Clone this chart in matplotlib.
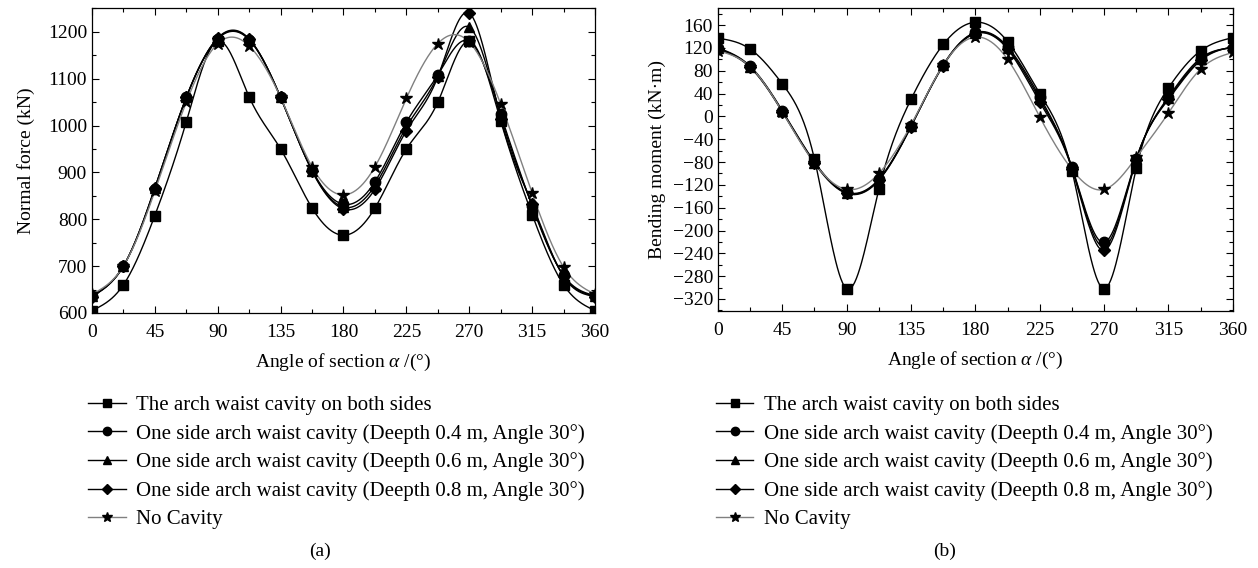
import matplotlib
matplotlib.use("Agg")
import matplotlib.pyplot as plt
import numpy as np
from matplotlib.ticker import MultipleLocator

plt.rcParams['font.family'] = ['Liberation Serif', 'DejaVu Serif']
plt.rcParams['mathtext.fontset'] = 'custom'
plt.rcParams['mathtext.rm'] = 'Liberation Serif'
plt.rcParams['mathtext.it'] = 'Liberation Serif:italic'

# angle of section, every 22.5 degrees
angle = np.arange(0, 361, 22.5)

labels = [
    "The arch waist cavity on both sides",
    "One side arch waist cavity (Deepth 0.4 m, Angle 30°)",
    "One side arch waist cavity (Deepth 0.6 m, Angle 30°)",
    "One side arch waist cavity (Deepth 0.8 m, Angle 30°)",
    "No Cavity",
]

# normal force (kN)
nf_both = [605, 660, 808, 1008, 1180, 1061, 950, 824, 766, 824, 950, 1050, 1180, 1010, 810, 660, 605]
nf_d04 = [636, 700, 865, 1060, 1185, 1183, 1060, 905, 832, 880, 1007, 1108, 1180, 1024, 828, 680, 637]
nf_d06 = [636, 700, 866, 1060, 1186, 1184, 1060, 904, 826, 872, 997, 1106, 1210, 1020, 830, 679, 636]
nf_d08 = [635, 700, 867, 1060, 1187, 1185, 1060, 903, 822, 864, 989, 1104, 1240, 1015, 832, 678, 635]
nf_none = [640, 700, 860, 1050, 1175, 1170, 1060, 912, 852, 912, 1058, 1175, 1178, 1046, 856, 698, 640]

# bending moment (kN·m)
bm_both = [137, 118, 57, -75, -302, -128, 30, 126, 165, 131, 40, -95, -302, -91, 50, 115, 138]
bm_d04 = [120, 88, 10, -80, -133, -110, -17, 90, 147, 122, 34, -89, -221, -74, 34, 102, 120]
bm_d06 = [119, 87, 9, -81, -134, -111, -17, 90, 146, 120, 30, -90, -228, -75, 32, 100, 121]
bm_d08 = [118, 86, 8, -82, -135, -112, -18, 89, 145, 118, 25, -92, -235, -76, 30, 98, 122]
bm_none = [115, 87, 8, -82, -128, -100, -15, 90, 139, 100, -1, -93, -128, -72, 6, 83, 112]

markers = ['s', 'o', '^', 'D', '*']
line_colors = ['black', 'black', 'black', 'black', '#808080']
msizes = [7, 7.5, 7.5, 6.5, 9]


def spline(x, y, n=600):
    # natural cubic spline through the points
    x = np.asarray(x, float)
    y = np.asarray(y, float)
    h = np.diff(x)
    m = len(x)
    A = np.zeros((m, m))
    b = np.zeros(m)
    A[0, 0] = A[-1, -1] = 1
    for i in range(1, m - 1):
        A[i, i - 1] = h[i - 1]
        A[i, i] = 2 * (h[i - 1] + h[i])
        A[i, i + 1] = h[i]
        b[i] = 6 * ((y[i + 1] - y[i]) / h[i] - (y[i] - y[i - 1]) / h[i - 1])
    M = np.linalg.solve(A, b)
    xs = np.linspace(x[0], x[-1], n)
    k = np.clip(np.searchsorted(x, xs) - 1, 0, m - 2)
    t1 = x[k + 1] - xs
    t0 = xs - x[k]
    hk = h[k]
    ys = (M[k] * t1 ** 3 + M[k + 1] * t0 ** 3) / (6 * hk) \
        + (y[k] / hk - M[k] * hk / 6) * t1 + (y[k + 1] / hk - M[k + 1] * hk / 6) * t0
    return xs, ys


fig = plt.figure(figsize=(12.58, 5.68), dpi=100)
ax1 = fig.add_axes([0.0731, 0.449, 0.3999, 0.537])
ax2 = fig.add_axes([0.5707, 0.4525, 0.4093, 0.5335])


def draw(ax, series):
    handles = []
    for ys, mk, lc, ms in zip(series, markers, line_colors, msizes):
        xs, yy = spline(angle, ys)
        ax.plot(xs, yy, color=lc, lw=1.0, zorder=2)
        ax.plot(angle, ys, linestyle='none', marker=mk, color='black', ms=ms, zorder=3)
        h, = ax.plot([], [], color=lc, lw=1.0, marker=mk, markerfacecolor='black',
                     markeredgecolor='black', ms=ms * 0.8)
        handles.append(h)
    ax.set_xlim(0, 360)
    ax.xaxis.set_major_locator(MultipleLocator(45))
    ax.xaxis.set_minor_locator(MultipleLocator(22.5))
    ax.tick_params(which='both', direction='in', top=True, right=True, labelsize=14)
    ax.tick_params(which='major', length=5, width=0.8)
    ax.tick_params(which='minor', length=3, width=0.8)
    ax.tick_params(axis='x', pad=8)
    ax.set_xlabel(r"Angle of section $\alpha$ /(°)", fontsize=14, labelpad=8)
    for sp in ax.spines.values():
        sp.set_linewidth(0.9)
    return handles


h1 = draw(ax1, [nf_both, nf_d04, nf_d06, nf_d08, nf_none])
ax1.set_ylim(600, 1251)
ax1.yaxis.set_major_locator(MultipleLocator(100))
ax1.yaxis.set_minor_locator(MultipleLocator(50))
ax1.set_ylabel("Normal force (kN)", fontsize=14, labelpad=9)

h2 = draw(ax2, [bm_both, bm_d04, bm_d06, bm_d08, bm_none])
ax2.set_ylim(-341, 190)
ax2.yaxis.set_major_locator(MultipleLocator(40))
ax2.yaxis.set_minor_locator(MultipleLocator(20))
ax2.set_ylabel("Bending moment (kN·m)", fontsize=14, labelpad=5)

for h, x0 in [(h1, 0.07), (h2, 0.569)]:
    fig.legend(h, labels, loc='upper left', bbox_to_anchor=(x0, 0.304), frameon=False,
               fontsize=15, handlelength=1.8, handletextpad=0.5, labelspacing=0.42,
               borderaxespad=0, borderpad=0)

fig.text(0.2545, 0.03, "(a)", ha='center', va='center', fontsize=14)
fig.text(0.751, 0.03, "(b)", ha='center', va='center', fontsize=14)

fig.savefig("out.png", dpi=100)
